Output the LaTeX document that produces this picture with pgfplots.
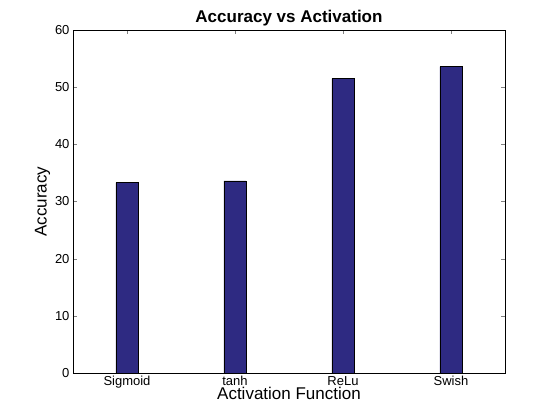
\documentclass[border=0pt]{standalone}
\usepackage{pgfplots}
\pgfplotsset{compat=1.18}
\usepackage{fontspec}
\setmainfont{Liberation Sans}
\definecolor{barc}{RGB}{46,42,130}
\begin{document}
\begin{tikzpicture}
\path (-73pt,-47pt) rectangle (487pt,373pt);
\begin{axis}[
  at={(0,0)}, anchor=south west,
  scale only axis, width=432pt, height=343pt,
  xmin=0.5, xmax=4.5, ymin=0, ymax=60,
  xtick={1,2,3,4}, xticklabels={Sigmoid,tanh,ReLu,Swish},
  ytick={0,10,...,60},
  tick align=inside, tick pos=both,
  /pgf/number format/assume math mode=true,
  ticklabel style={font=\fontsize{13}{15}\selectfont},
  xlabel={Activation Function}, ylabel={Accuracy},
  label style={font=\fontsize{17}{19}\selectfont},
  xlabel style={yshift=8pt}, ylabel style={yshift=-2pt},
  title={\textbf{Accuracy vs Activation}},
  title style={font=\fontsize{17}{19}\selectfont, yshift=-6pt},
]
\addplot[ybar, bar width=22pt, fill=barc, draw=black] coordinates {(1,33.3) (2,33.6) (3,51.5) (4,53.6)};
\end{axis}
\end{tikzpicture}
\end{document}
